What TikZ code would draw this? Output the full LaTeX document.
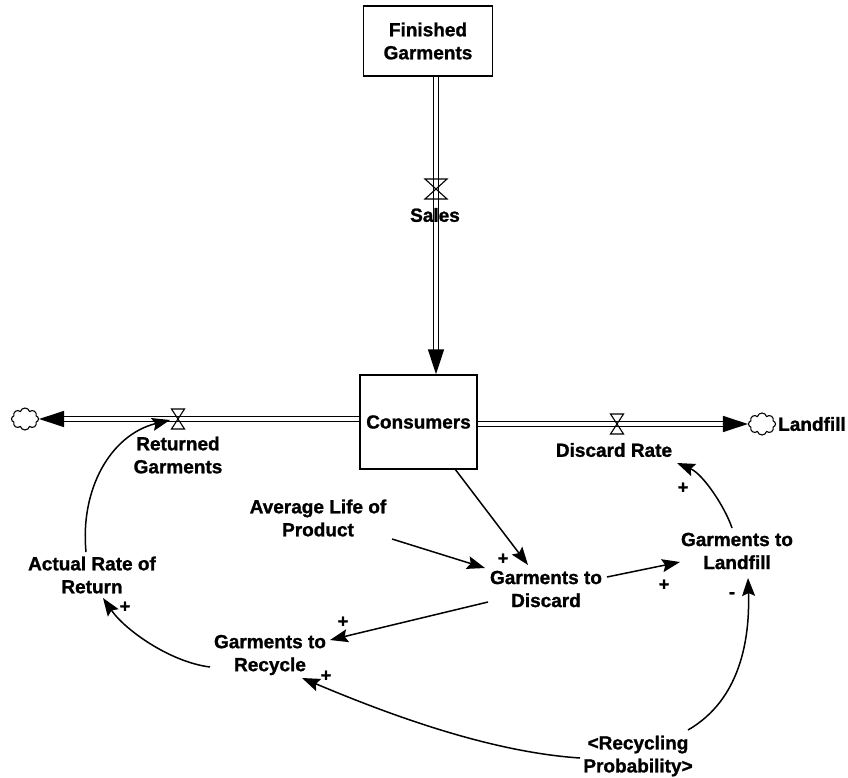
\documentclass[tikz,border=0pt]{standalone}
\usepackage{fontspec}
\setmainfont[BoldFeatures={FakeBold=1.2}]{Liberation Sans}
\usetikzlibrary{arrows.meta,calc,shapes.symbols}
\begin{document}
\begin{tikzpicture}[x=1pt,y=1pt,
  lbl/.style={font=\fontsize{19}{23}\selectfont\bfseries, align=center, inner sep=0pt},
  stock/.style={draw, line width=1.4pt, inner sep=0pt},
  pipe/.style={line width=1.4pt, double distance=3.6pt},
  pipetip/.style={-{Triangle[length=25pt,width=16pt]}},
  link/.style={line width=1.5pt, -{Stealth[length=18pt,width=13pt,inset=3pt]}},
  sink/.style={cloud, cloud puffs=8, draw, line width=1.1pt, minimum width=27pt, minimum height=22pt, inner sep=0pt},
  pol/.style={font=\fontsize{18}{18}\selectfont\bfseries, inner sep=0pt},
  valve/.pic={\draw[line width=1.1pt] (-6.5,10) -- (6.5,10) -- (-6.5,-10) -- (6.5,-10) -- cycle;}
]
\useasboundingbox (0,0) rectangle (848,-778);

% stocks
\node[stock, lbl, minimum width=129pt, minimum height=70pt] (fg) at (428,-41) {Finished\\Garments};
\node[stock, lbl, minimum width=117pt, minimum height=94pt] (cons) at (418.5,-422) {Consumers};

% valves and sinks
\coordinate (sv) at (436,-189);
\coordinate (rv) at (178,-419);
\coordinate (dv) at (617,-424);
\node[sink] (cl) at (25,-419) {};
\node[sink] (cr) at (762,-424) {};

% material flows
\draw[pipe, pipetip] (fg.south -| sv) -- (cons.north -| sv);
\draw[pipe, pipetip] (cons.west |- rv) -- (cl);
\draw[pipe, pipetip] (cons.east |- dv) -- (cr);
\pic[xscale=1.7] at (sv) {valve};
\pic at (rv) {valve};
\pic at (dv) {valve};

% labels
\node[lbl] (sales) at (435,-215) {Sales};
\node[lbl] (rg) at (178,-455) {Returned\\Garments};
\node[lbl] (dr) at (614,-450) {Discard Rate};
\node[lbl, anchor=west] (lf) at (778,-424) {Landfill};
\node[lbl] (avg) at (318,-518) {Average Life of\\Product};
\node[lbl] (arr) at (92,-575) {Actual Rate of\\Return};
\node[lbl] (gr) at (270,-655) {Garments to\\Recycle};
\node[lbl] (gd) at (546,-589) {Garments to\\Discard};
\node[lbl] (gl) at (737,-551) {Garments to\\Landfill};
\node[lbl] (rp) at (638,-756) {<Recycling\\Probability>};

% causal links
\draw[link] ($(cons.south)+(37,0)$) -- ($(gd)+(-18,24)$);
\draw[link] ($(avg)+(74,-21)$) -- ($(gd)+(-61,21)$);
\draw[link] ($(gd)+(-58,-13)$) -- ($(gr)+(60,15)$);
\draw[link] ($(gd)+(61,12)$) -- ($(gl)+(-57,-11)$);
\draw[link] ($(gl)+(-5,23)$) .. controls (725,-507) and (703,-474) .. ($(dr)+(63,-13)$);
\draw[link] ($(rp)+(50,26)$) .. controls (740,-700) and (750,-640) .. ($(gl)+(11,-27)$);
\draw[link] ($(rp)+(-58,-2)$) .. controls (490,-752) and (390,-715) .. ($(gr)+(32,-23)$);
\draw[link] ($(gr)+(-60,-12)$) .. controls (170,-662) and (125,-630) .. ($(arr)+(11,-23)$);
\draw[link] ($(arr)+(-6,23)$) .. controls (80,-490) and (110,-435) .. ($(rv)+(-8,-1)$);

% polarities
\node[pol] (p1) at (503,-559) {+};
\node[pol] (p2) at (343,-622) {+};
\node[pol] (p3) at (664,-585) {+};
\node[pol] (p4) at (683,-488) {+};
\node[pol] (p5) at (732,-595) {-};
\node[pol] (p6) at (326,-676) {+};
\node[pol] (p7) at (125,-607) {+};
\end{tikzpicture}
\end{document}
